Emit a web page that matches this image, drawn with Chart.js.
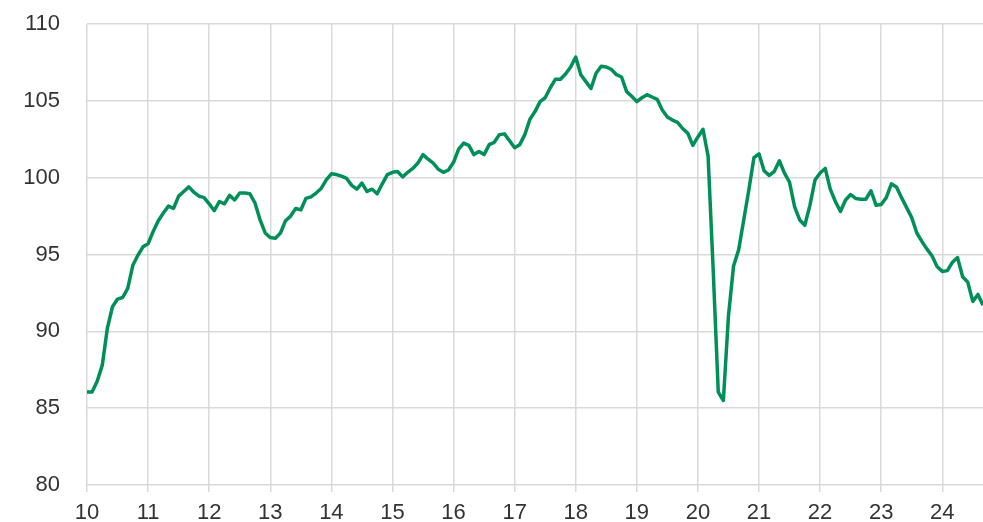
<!DOCTYPE html>
<html>
<head>
<meta charset="utf-8">
<script src="https://cdn.jsdelivr.net/npm/chart.js@4/dist/chart.umd.min.js"></script>
<style>
  html, body { margin: 0; padding: 0; background: #fff; }
  #wrap { width: 983px; height: 522px; }
</style>
</head>
<body>
<div id="wrap"><canvas id="idxChart" width="983" height="522"></canvas></div>
<script>
// month index 0 = Jan 2010, one value per month
const startYear = 10;
const values = [
  86.05, 86.05, 86.75, 87.8, 90.2, 91.6, 92.1, 92.2, 92.8, 94.3, 94.95, 95.5,          // 2010
  95.7, 96.5, 97.2, 97.7, 98.15, 98.0, 98.8, 99.1, 99.4, 99.05, 98.8, 98.7,              // 2011
  98.3, 97.85, 98.45, 98.3, 98.85, 98.55, 99.0, 99.0, 98.95, 98.35, 97.25, 96.4,         // 2012
  96.1, 96.05, 96.4, 97.2, 97.5, 98.0, 97.9, 98.65, 98.75, 99.0, 99.3, 99.85,            // 2013
  100.25, 100.2, 100.1, 99.95, 99.5, 99.25, 99.65, 99.1, 99.25, 98.95, 99.6, 100.2,      // 2014
  100.35, 100.4, 100.05, 100.35, 100.6, 100.95, 101.5, 101.2, 100.95, 100.55, 100.35, 100.5, // 2015
  101.0, 101.85, 102.25, 102.1, 101.5, 101.7, 101.5, 102.15, 102.3, 102.8, 102.85, 102.4, // 2016
  101.95, 102.15, 102.8, 103.8, 104.3, 104.95, 105.2, 105.85, 106.4, 106.4, 106.75, 107.2, // 2017
  107.85, 106.7, 106.25, 105.8, 106.8, 107.25, 107.2, 107.05, 106.7, 106.55, 105.6, 105.3, // 2018
  104.95, 105.2, 105.4, 105.25, 105.1, 104.4, 103.95, 103.75, 103.6, 103.2, 102.9, 102.1, // 2019
  102.65, 103.15, 101.4, 94.0, 86.05, 85.5, 91.0, 94.25, 95.3, 97.25, 99.2, 101.3,       // 2020
  101.55, 100.45, 100.15, 100.4, 101.1, 100.3, 99.7, 98.1, 97.25, 96.9, 98.2, 99.85,     // 2021
  100.3, 100.6, 99.25, 98.45, 97.8, 98.55, 98.9, 98.65, 98.6, 98.6, 99.15, 98.2,         // 2022
  98.25, 98.7, 99.6, 99.4, 98.7, 98.05, 97.4, 96.4, 95.85, 95.35, 94.9, 94.2,            // 2023
  93.9, 93.95, 94.5, 94.8, 93.55, 93.2, 91.95, 92.4, 91.7                                // 2024
];
const xTickLabels = ['10', '11', '12', '13', '14', '15', '16', '17', '18', '19', '20', '21', '22', '23', '24'];
const yTicks = [80, 85, 90, 95, 100, 105, 110];

const points = values.map((v, i) => ({ x: i, y: v }));
const gridColor = '#d9d9d9';
const textColor = '#333333';

const ctx = document.getElementById('idxChart').getContext('2d');
new Chart(ctx, {
  type: 'line',
  data: {
    datasets: [{
      data: points,
      borderColor: '#008f58',
      borderWidth: 3.5,
      pointRadius: 0,
      tension: 0,
      fill: false,
      borderJoinStyle: 'round'
    }]
  },
  options: {
    responsive: false,
    animation: false,
    layout: { padding: { top: 24, right: 0, bottom: 0, left: 0 } },
    plugins: { legend: { display: false }, tooltip: { enabled: false } },
    scales: {
      x: {
        type: 'linear',
        min: 0,
        max: values.length - 1,
        grid: { color: gridColor, lineWidth: 1.5, tickLength: 7, drawTicks: true },
        border: { display: false },
        ticks: {
          stepSize: 12,
          includeBounds: false,
          autoSkip: false,
          maxRotation: 0,
          padding: 8,
          color: textColor,
          font: { family: 'Liberation Sans', size: 22 },
          callback: function(value) {
            const k = value / 12;
            return Number.isInteger(k) && xTickLabels[k] ? xTickLabels[k] : '';
          }
        },
        afterFit: function(scale) {
          scale.height = 37;
          scale.paddingLeft = 0;
          scale.paddingRight = 0;
        }
      },
      y: {
        min: yTicks[0],
        max: yTicks[yTicks.length - 1],
        grid: { color: gridColor, lineWidth: 1.5, drawTicks: false },
        border: { display: false },
        ticks: {
          stepSize: 5,
          padding: 27,
          color: textColor,
          font: { family: 'Liberation Sans', size: 22 }
        },
        afterFit: function(scale) {
          scale.width = 87;
          // ticks.padding would otherwise be added above and below the axis
          scale.paddingTop = 0;
          scale.paddingBottom = 0;
        }
      }
    }
  }
});
</script>
</body>
</html>
